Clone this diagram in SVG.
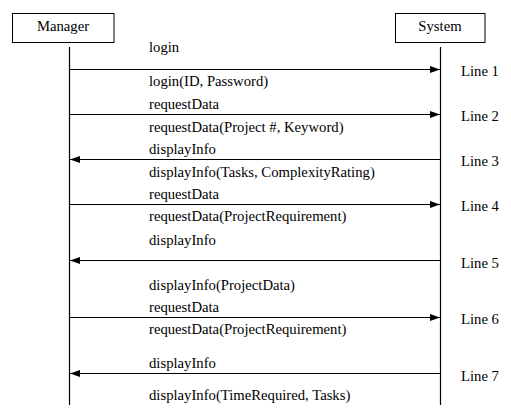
<svg xmlns="http://www.w3.org/2000/svg" width="511" height="410" viewBox="0 0 511 410" font-family="'Liberation Serif', Tinos, 'Times New Roman', 'DejaVu Serif', serif">
<style>
text{font-family:'Liberation Serif',Tinos,'Times New Roman','DejaVu Serif',serif;font-size:14.7px;fill:#000}
.box{fill:#fff;stroke:#000;stroke-width:1}
.life{stroke:#000;stroke-width:1.2;fill:none}
.msg{stroke:#000;stroke-width:1.2;fill:none}
.r{marker-end:url(#ah)}
</style>
<defs>
<marker id="ah" markerWidth="10" markerHeight="7" refX="10" refY="3.5" orient="auto" markerUnits="userSpaceOnUse">
<path d="M0,0 L10,3.5 L0,7 Z" fill="#000"/>
</marker>
</defs>
<rect width="511" height="410" fill="#fff"/>
<g id="manager">
<rect class="box" x="12.5" y="13.5" width="101.5" height="29"/>
<text x="63" y="31" text-anchor="middle">Manager</text>
<line class="life" x1="69.5" y1="47" x2="69.5" y2="405"/>
</g>
<g id="system">
<rect class="box" x="395.5" y="13.5" width="89.5" height="29"/>
<text x="440" y="31" text-anchor="middle">System</text>
<line class="life" x1="440.5" y1="47" x2="440.5" y2="405"/>
</g>
<g id="connectors">
<line class="msg r" x1="69.5" y1="69.5" x2="440" y2="69.5"/>
<line class="msg r" x1="69.5" y1="114.5" x2="440" y2="114.5"/>
<line class="msg r" x1="440.5" y1="159.5" x2="70" y2="159.5"/>
<line class="msg r" x1="69.5" y1="204.5" x2="440" y2="204.5"/>
<line class="msg r" x1="440.5" y1="260.5" x2="70" y2="260.5"/>
<line class="msg r" x1="69.5" y1="317.5" x2="440" y2="317.5"/>
<line class="msg r" x1="440.5" y1="373.5" x2="70" y2="373.5"/>
</g>
<g id="labels">
<text x="149" y="52">login</text>
<text x="149" y="86">login(ID, Password)</text>
<text x="149" y="109">requestData</text>
<text x="149" y="132">requestData(Project #, Keyword)</text>
<text x="149" y="154">displayInfo</text>
<text x="149" y="177">displayInfo(Tasks, ComplexityRating)</text>
<text x="149" y="199">requestData</text>
<text x="149" y="221">requestData(ProjectRequirement)</text>
<text x="149" y="245">displayInfo</text>
<text x="149" y="290">displayInfo(ProjectData)</text>
<text x="149" y="312">requestData</text>
<text x="149" y="334">requestData(ProjectRequirement)</text>
<text x="149" y="368">displayInfo</text>
<text x="149" y="400">displayInfo(TimeRequired, Tasks)</text>
</g>
<g id="line-labels">
<text x="461" y="76">Line 1</text>
<text x="461" y="121">Line 2</text>
<text x="461" y="166">Line 3</text>
<text x="461" y="211">Line 4</text>
<text x="461" y="268">Line 5</text>
<text x="461" y="324">Line 6</text>
<text x="461" y="381">Line 7</text>
</g>
</svg>
